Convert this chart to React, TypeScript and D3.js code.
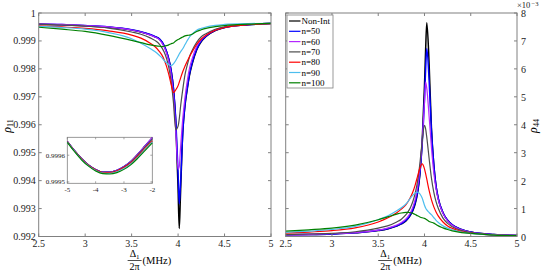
import React from 'react'
import * as d3 from 'd3'

// detuning grid (MHz), shared by every series
const X = [2.5, 2.75, 3, 3.25, 3.5, 3.6, 3.7, 3.75, 3.8, 3.825, 3.85, 3.875, 3.9, 3.925, 3.95, 3.975, 4.0, 4.0125, 4.025, 4.05, 4.075, 4.1, 4.125, 4.15, 4.2, 4.25, 4.3, 4.4, 4.5, 4.75, 5]

const names = ['Non-Int', 'n=50', 'n=60', 'n=70', 'n=80', 'n=90', 'n=100']
const colors = ['#000000', '#0000ff', '#b428ff', '#4d4d4d', '#ff0000', '#4dbeee', '#008000']

// 1 - rho11, in units of 1e-3
const d11NonInt = [.40, .42, .46, .51, .61, .68, .78, .85, .93, 1.03, 1.18, 1.38, 1.65, 2.05, 2.7, 3.9, 6.3, 7.71, 6.6, 4.3, 3.3, 2.7, 2.2, 1.85, 1.32, 1.02, .84, .63, .52, .42, .38]
const d11n50 = [.39, .41, .45, .50, .60, .67, .77, .84, .93, 1.03, 1.17, 1.37, 1.65, 2.05, 2.7, 3.8, 5.7, 6.83, 6.2, 4.3, 3.25, 2.65, 2.15, 1.8, 1.3, 1.0, .83, .62, .52, .42, .38]
const d11n60 = [.39, .41, .45, .50, .61, .68, .79, .86, .96, 1.07, 1.22, 1.43, 1.73, 2.2, 2.95, 4.2, 5.6, 5.5, 4.9, 3.8, 3.0, 2.4, 1.95, 1.65, 1.2, .95, .80, .60, .50, .41, .37]
const d11n70 = [.40, .43, .47, .54, .68, .76, .89, .98, 1.12, 1.24, 1.4, 1.62, 1.95, 2.45, 3.2, 4.18, 4.05, 3.8, 3.4, 2.75, 2.2, 1.85, 1.55, 1.35, 1.05, .85, .74, .58, .50, .41, .37]
const d11n80 = [.46, .50, .55, .64, .79, .90, 1.08, 1.2, 1.38, 1.5, 1.67, 1.9, 2.2, 2.55, 2.85, 2.75, 2.6, 2.48, 2.35, 2.1, 1.9, 1.72, 1.55, 1.4, 1.12, .93, .80, .62, .52, .42, .38]
const d11n90 = [.48, .52, .58, .70, .92, 1.08, 1.27, 1.38, 1.52, 1.6, 1.7, 1.78, 1.85, 1.88, 1.82, 1.7, 1.55, 1.47, 1.4, 1.28, 1.13, .98, .85, .76, .62, .55, .50, .44, .41, .38, .37]
const d11n100 = [.51, .58, .66, .80, .98, 1.06, 1.14, 1.17, 1.19, 1.2, 1.19, 1.17, 1.14, 1.1, 1.07, 1.0, .95, .93, .90, .86, .82, .80, .79, .76, .66, .60, .55, .49, .45, .40, .37]

// rho44, in units of 1e-3
const r44NonInt = [.06, .07, .09, .13, .21, .27, .37, .45, .56, .65, .77, .93, 1.17, 1.55, 2.2, 3.4, 5.4, 6.7, 7.65, 6.2, 3.9, 2.6, 1.8, 1.35, .85, .58, .42, .25, .16, .07, .04]
const r44n50 = [.06, .07, .09, .13, .22, .28, .38, .46, .58, .67, .80, .97, 1.22, 1.6, 2.25, 3.3, 4.9, 6.0, 6.73, 5.6, 3.8, 2.6, 1.8, 1.35, .85, .58, .42, .25, .16, .07, .04]
const r44n60 = [.06, .07, .10, .14, .23, .30, .41, .50, .63, .73, .87, 1.06, 1.34, 1.75, 2.4, 3.4, 4.8, 5.53, 5.3, 4.3, 3.2, 2.3, 1.7, 1.3, .82, .56, .40, .24, .15, .07, .04]
const r44n70 = [.07, .09, .11, .17, .30, .38, .52, .62, .78, .90, 1.05, 1.26, 1.55, 1.97, 2.6, 3.4, 3.98, 3.85, 3.55, 2.8, 2.1, 1.6, 1.25, 1.0, .66, .47, .35, .21, .14, .06, .04]
const r44n80 = [.12, .16, .21, .31, .52, .66, .85, .98, 1.14, 1.26, 1.41, 1.6, 1.85, 2.15, 2.45, 2.6, 2.42, 2.25, 2.05, 1.65, 1.32, 1.07, .88, .73, .52, .38, .29, .18, .12, .05, .03]
const r44n90 = [.15, .19, .25, .36, .60, .73, .92, 1.03, 1.17, 1.27, 1.38, 1.48, 1.56, 1.59, 1.53, 1.38, 1.12, 1.02, .95, .86, .78, .68, .58, .50, .38, .30, .24, .16, .11, .05, .03]
const r44n100 = [.19, .24, .30, .41, .60, .70, .80, .84, .86, .86, .85, .83, .79, .74, .70, .67, .65, .63, .60, .54, .51, .48, .43, .38, .31, .25, .20, .14, .11, .05, .03]

// inset: rho11 far off resonance
const XI = [-5, -4.75, -4.5, -4.25, -4, -3.75, -3.5, -3.25, -3, -2.75, -2.5, -2.25, -2]
const inNonInt = [.999652, .999618, .999588, .999564, .999547, .999537, .999537, .999544, .999558, .999578, .999606, .999636, .999666]
const in50 = [.999652, .999618, .999588, .999564, .999547, .999537, .999537, .999544, .999558, .999578, .999605, .999635, .999665]
const in60 = [.999652, .999618, .999588, .999564, .999547, .999537, .999537, .999544, .999558, .999578, .999606, .999636, .999667]
const in70 = [.999651, .999617, .999587, .999563, .999546, .999536, .999536, .999542, .999556, .999575, .999602, .999631, .999660]
const in80 = [.999650, .999616, .999586, .999562, .999545, .999535, .999535, .999541, .999554, .999572, .999598, .999626, .999654]
const in90 = [.999649, .999615, .999584, .999560, .999543, .999533, .999532, .999538, .999550, .999568, .999594, .999622, .999650]
const in100 = [.999648, .999614, .999583, .999559, .999541, .999531, .999530, .999535, .999547, .999565, .999590, .999618, .999646]

const d11 = [d11NonInt, d11n50, d11n60, d11n70, d11n80, d11n90, d11n100]
const r44 = [r44NonInt, r44n50, r44n60, r44n70, r44n80, r44n90, r44n100]
const inset = [inNonInt, in50, in60, in70, in80, in90, in100]

const xTicks = [2.5, 3, 3.5, 4, 4.5, 5]
const leftTicks = [0.992, 0.993, 0.994, 0.995, 0.996, 0.997, 0.998, 0.999, 1]
const rightTicks = [0, 1, 2, 3, 4, 5, 6, 7, 8]
const insetXTicks = [-5, -4, -3, -2]
const insetYTicks = [0.9995, 0.9996]

const font = '"Liberation Serif", "DejaVu Serif", serif'
const axisColor = '#808080'
const tk = 3

// Δ1/2π (MHz) as a stacked fraction
const XLabel = ({ cx, y }) => (
	<g fontFamily={font} fill="#000">
		<text x={cx - 9} y={y} fontSize={10} textAnchor="middle">Δ<tspan fontSize={7} dy={2}>1</tspan></text>
		<line x1={cx - 16} x2={cx - 2} y1={y + 3.5} y2={y + 3.5} stroke="#000" strokeWidth={0.7} />
		<text x={cx - 9} y={y + 13} fontSize={10} textAnchor="middle">2π</text>
		<text x={cx - 1} y={y + 7} fontSize={10.5}>(MHz)</text>
	</g>
)

export default function App() {
	const lx = d3.scaleLinear().domain([2.5, 5]).range([38.7, 271])
	const ly = d3.scaleLinear().domain([0.992, 1]).range([236.5, 13])
	const rx = d3.scaleLinear().domain([2.5, 5]).range([285.7, 517])
	const ry = d3.scaleLinear().domain([0, 8]).range([236.5, 13])
	const ix = d3.scaleLinear().domain([-5, -2]).range([67.3, 152.3])
	const iy = d3.scaleLinear().domain([0.999495, 0.999667]).range([183.3, 137.3])

	const leftLine = d3.line<number>().x((_, i) => lx(X[i])).y(d => ly(1 - d / 1000)).curve(d3.curveMonotoneX)
	const rightLine = d3.line<number>().x((_, i) => rx(X[i])).y(d => ry(d)).curve(d3.curveMonotoneX)
	const insetLine = d3.line<number>().x((_, i) => ix(XI[i])).y(d => iy(d)).curve(d3.curveMonotoneX)

	const [lx0, lx1] = lx.range()
	const [rx0, rx1] = rx.range()
	const [y0, y1] = ly.range()

	return (
		<svg width={545} height={273} style={{ position: 'absolute', left: 0, top: 0, background: '#fff' }}>
			<defs>
				<clipPath id="clipL"><rect x={lx0} y={y1} width={lx1 - lx0} height={y0 - y1} /></clipPath>
				<clipPath id="clipR"><rect x={rx0} y={y1} width={rx1 - rx0} height={y0 - y1} /></clipPath>
			</defs>

			{/* left panel */}
			<g clipPath="url(#clipL)">
				{d11.map((s, i) => (
					<path key={i} d={leftLine(s)} fill="none" stroke={colors[i]} strokeWidth={i < 2 ? 1.5 : 1.2} />
				))}
			</g>
			<rect x={lx0} y={y1} width={lx1 - lx0} height={y0 - y1} fill="none" stroke={axisColor} strokeWidth={1} />
			<g fontFamily={font} fontSize={10} fill="#222">
				{xTicks.map(t => (
					<g key={t}>
						<line x1={lx(t)} x2={lx(t)} y1={y0} y2={y0 - tk} stroke={axisColor} />
						<line x1={lx(t)} x2={lx(t)} y1={y1} y2={y1 + tk} stroke={axisColor} />
						<text x={lx(t)} y={y0 + 10.5} textAnchor="middle">{t}</text>
					</g>
				))}
				{leftTicks.map(t => (
					<g key={t}>
						<line x1={lx0} x2={lx0 + tk} y1={ly(t)} y2={ly(t)} stroke={axisColor} />
						<line x1={lx1} x2={lx1 - tk} y1={ly(t)} y2={ly(t)} stroke={axisColor} />
						<text x={lx0 - 3} y={ly(t) + 3.5} textAnchor="end">{t === 1 ? '1' : t.toFixed(3)}</text>
					</g>
				))}
			</g>
			<text transform="translate(11,126) rotate(-90)" fontFamily={font} fontSize={12} fontStyle="italic" textAnchor="middle">ρ<tspan fontSize={8} dy={2} fontStyle="normal">11</tspan></text>
			<XLabel cx={lx(3.5) + 12} y={257} />

			{/* inset */}
			<rect x={67.3} y={137.3} width={85} height={46} fill="#fff" stroke={axisColor} strokeWidth={0.8} />
			{inset.map((s, i) => (
				<path key={i} d={insetLine(s)} fill="none" stroke={colors[i]} strokeWidth={1.1} />
			))}
			<g fontFamily={font} fontSize={7} fill="#222">
				{insetXTicks.map(t => (
					<g key={t}>
						<line x1={ix(t)} x2={ix(t)} y1={183.3} y2={181.3} stroke={axisColor} strokeWidth={0.7} />
						<line x1={ix(t)} x2={ix(t)} y1={137.3} y2={139.3} stroke={axisColor} strokeWidth={0.7} />
						<text x={ix(t)} y={192} textAnchor="middle">{t}</text>
					</g>
				))}
				{insetYTicks.map(t => (
					<g key={t}>
						<line x1={67.3} x2={69.3} y1={iy(t)} y2={iy(t)} stroke={axisColor} strokeWidth={0.7} />
						<line x1={152.3} x2={150.3} y1={iy(t)} y2={iy(t)} stroke={axisColor} strokeWidth={0.7} />
						<text x={65} y={iy(t) + 2.5} textAnchor="end">{t.toFixed(4)}</text>
					</g>
				))}
			</g>

			{/* right panel */}
			<g clipPath="url(#clipR)">
				{r44.map((s, i) => (
					<path key={i} d={rightLine(s)} fill="none" stroke={colors[i]} strokeWidth={i < 2 ? 1.5 : 1.2} />
				))}
			</g>
			<rect x={rx0} y={y1} width={rx1 - rx0} height={y0 - y1} fill="none" stroke={axisColor} strokeWidth={1} />
			<g fontFamily={font} fontSize={10} fill="#222">
				{xTicks.map(t => (
					<g key={t}>
						<line x1={rx(t)} x2={rx(t)} y1={y0} y2={y0 - tk} stroke={axisColor} />
						<line x1={rx(t)} x2={rx(t)} y1={y1} y2={y1 + tk} stroke={axisColor} />
						<text x={rx(t)} y={y0 + 10.5} textAnchor="middle">{t}</text>
					</g>
				))}
				{rightTicks.map(t => (
					<g key={t}>
						<line x1={rx0} x2={rx0 + tk} y1={ry(t)} y2={ry(t)} stroke={axisColor} />
						<line x1={rx1} x2={rx1 - tk} y1={ry(t)} y2={ry(t)} stroke={axisColor} />
						<text x={rx1 + 4} y={ry(t) + 4}>{t}</text>
					</g>
				))}
			</g>
			<text x={517} y={7.5} fontFamily={font} fontSize={8.5} fill="#222">×10</text>
			<text x={531.5} y={5.5} fontFamily={font} fontSize={6.5} fill="#222">−3</text>
			<text transform="translate(537,126) rotate(-90)" fontFamily={font} fontSize={12} fontStyle="italic" textAnchor="middle">ρ<tspan fontSize={8} dy={2} fontStyle="normal">44</tspan></text>
			<XLabel cx={rx(3.5) + 16} y={257} />

			{/* legend */}
			<rect x={287} y={15} width={46} height={73} fill="#fff" stroke={axisColor} strokeWidth={0.8} />
			<g fontFamily={font} fontSize={9} fill="#000">
				{names.map((n, i) => (
					<g key={n}>
						<line x1={289} x2={300.5} y1={21 + i * 10.3} y2={21 + i * 10.3} stroke={colors[i]} strokeWidth={1.2} />
						<text x={301.5} y={24 + i * 10.3}>{n}</text>
					</g>
				))}
			</g>
		</svg>
	)
}
